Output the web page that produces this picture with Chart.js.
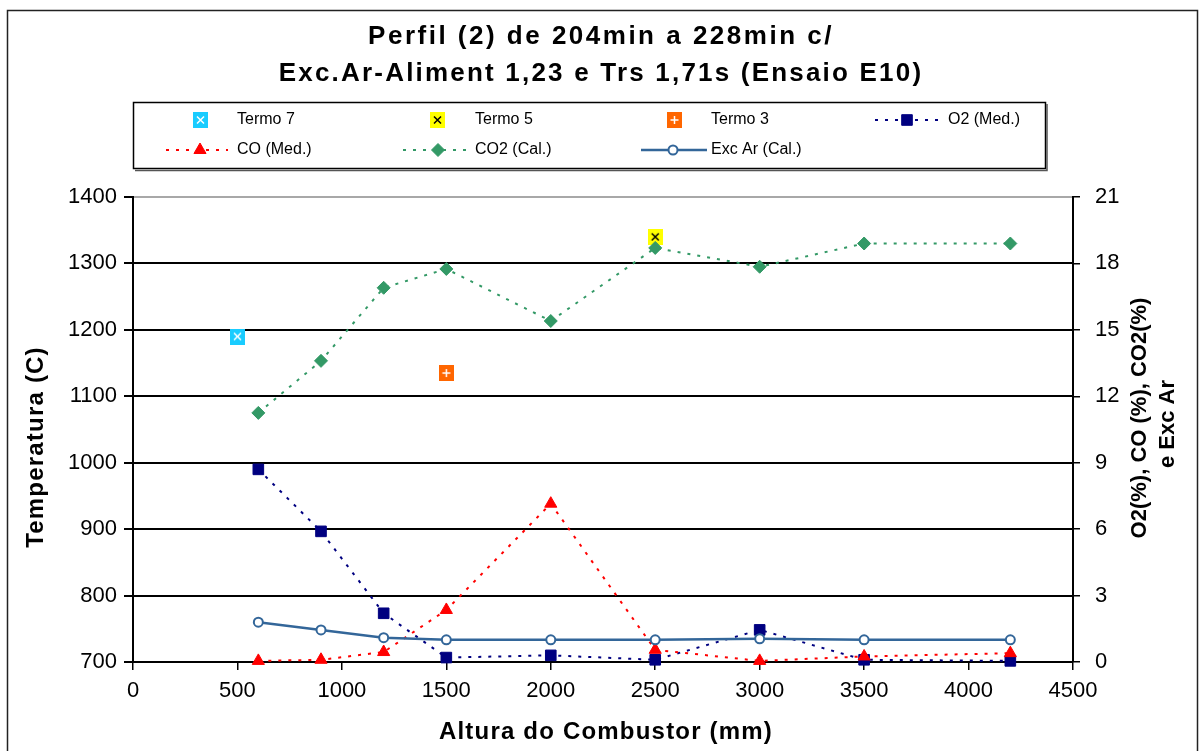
<!DOCTYPE html>
<html>
<head>
<meta charset="utf-8">
<title>Perfil (2) - Ensaio E10</title>
<script src="https://cdn.jsdelivr.net/npm/chart.js@4.4.1/dist/chart.umd.min.js"></script>
<style>
  html, body { margin: 0; padding: 0; background: #fff; }
  canvas { display: block; }
</style>
</head>
<body>
<canvas id="chart" width="1199" height="751"></canvas>
<script>
// text
var titleLines = ['Perfil (2) de 204min a 228min c/', 'Exc.Ar-Aliment 1,23 e Trs 1,71s (Ensaio E10)'];
var xTitle = 'Altura do Combustor (mm)';
var yTitle = 'Temperatura (C)';
var y1TitleLines = ['O2(%), CO (%), CO2(%)', 'e Exc Ar'];

// tick labels
var xTicks = [0, 500, 1000, 1500, 2000, 2500, 3000, 3500, 4000, 4500];
var tempTicks = [700, 800, 900, 1000, 1100, 1200, 1300, 1400];
var gasTicks = [0, 3, 6, 9, 12, 15, 18, 21];

// thermocouples (left axis)
var termoLabels = ['Termo 7', 'Termo 5', 'Termo 3'];
var termoHeights = [500, 2500, 1500];
var termoTemps = [1190, 1340, 1135];

// gas profile (right axis)
var heights = [600, 900, 1200, 1500, 2000, 2500, 3000, 3500, 4200];
var o2Med = [8.7, 5.9, 2.2, 0.2, 0.3, 0.1, 1.45, 0.1, 0.05];
var coMed = [0.05, 0.1, 0.45, 2.35, 7.15, 0.55, 0.05, 0.25, 0.4];
var co2Cal = [11.25, 13.6, 16.9, 17.75, 15.4, 18.7, 17.85, 18.9, 18.9];
var excArCal = [1.8, 1.45, 1.1, 1.0, 1.0, 1.0, 1.05, 1.0, 1.0];

var FONT = "'Liberation Sans', Arial, Helvetica, sans-serif";

// small square marker with a glyph, like the Excel pattern markers
function makeBadge(fill, ink, glyph) {
    var c = document.createElement('canvas');
    c.width = 15;
    c.height = 16;
    var g = c.getContext('2d');
    g.fillStyle = fill;
    g.fillRect(0, 0, 15, 16);
    g.strokeStyle = ink;
    g.lineWidth = 1.5;
    g.beginPath();
    if (glyph === '+') {
        g.moveTo(7.5, 4); g.lineTo(7.5, 12);
        g.moveTo(3.5, 8); g.lineTo(11.5, 8);
    } else {
        g.moveTo(4, 4.5); g.lineTo(11, 11.5);
        g.moveTo(11, 4.5); g.lineTo(4, 11.5);
    }
    g.stroke();
    return c;
}

var termoStyles = [
    makeBadge('#19CCFF', '#ffffff', 'x'),
    makeBadge('#FFFF00', '#000000', 'x'),
    makeBadge('#FF6600', '#ffffff', '+')
];

function pairs(xs, ys) {
    return xs.map(function(x, i) { return {x: x, y: ys[i]}; });
}

function termoSet(i) {
    return {
        label: termoLabels[i],
        data: [{x: termoHeights[i], y: termoTemps[i]}],
        yAxisID: 'y',
        showLine: false,
        pointStyle: termoStyles[i],
        pointRadius: 8,
        order: 7 - i,
        clip: false
    };
}

function gasSet(label, values, color, style, radius, dash, order) {
    return {
        label: label,
        data: pairs(heights, values),
        yAxisID: 'y1',
        showLine: true,
        borderColor: color,
        borderWidth: 2,
        borderDash: dash,
        pointStyle: style,
        pointRadius: radius,
        pointBackgroundColor: color,
        pointBorderColor: color,
        pointBorderWidth: 1,
        order: order,
        clip: false
    };
}

var datasets = [
    termoSet(0),
    termoSet(1),
    termoSet(2),
    gasSet('O2 (Med.)', o2Med, '#000080', 'rect', 7.5, [3, 7], 4),
    gasSet('CO (Med.)', coMed, '#FF0000', 'triangle', 7, [3, 7], 3),
    gasSet('CO2 (Cal.)', co2Cal, '#339966', 'rectRot', 6.5, [3, 7], 2),
    gasSet('Exc Ar (Cal.)', excArCal, '#336699', 'circle', 4.5, [], 1)
];
// open circles for excess air
datasets[6].pointBackgroundColor = '#ffffff';
datasets[6].pointBorderWidth = 2;
datasets[6].borderWidth = 2.5;

// legend slots, in dataset order
var legendSlots = [
    {mx: 200, tx: 237, y: 120},
    {mx: 437, tx: 475, y: 120},
    {mx: 674, tx: 711, y: 120},
    {mx: 907, tx: 948, y: 120, l0: 875, l1: 945},
    {mx: 200, tx: 237, y: 150, l0: 166, l1: 228},
    {mx: 438, tx: 475, y: 150, l0: 403, l1: 467},
    {mx: 673, tx: 711, y: 150, l0: 641, l1: 707}
];

function drawMarker(ctx, ds, x, y) {
    var st = ds.pointStyle, r = ds.pointRadius;
    if (st instanceof HTMLCanvasElement) {
        ctx.drawImage(st, Math.round(x - st.width / 2), Math.round(y - st.height / 2));
        return;
    }
    ctx.beginPath();
    if (st === 'rect') {
        var h = r * Math.SQRT1_2;
        ctx.rect(x - h, y - h, 2 * h, 2 * h);
    } else if (st === 'triangle') {
        ctx.moveTo(x, y - r);
        ctx.lineTo(x + r * Math.sin(Math.PI * 2 / 3), y + r / 2);
        ctx.lineTo(x - r * Math.sin(Math.PI * 2 / 3), y + r / 2);
        ctx.closePath();
    } else if (st === 'rectRot') {
        ctx.moveTo(x, y - r); ctx.lineTo(x + r, y);
        ctx.lineTo(x, y + r); ctx.lineTo(x - r, y);
        ctx.closePath();
    } else {
        ctx.arc(x, y, r, 0, Math.PI * 2);
    }
    ctx.fillStyle = ds.pointBackgroundColor;
    ctx.fill();
    ctx.lineWidth = ds.pointBorderWidth;
    ctx.strokeStyle = ds.pointBorderColor;
    ctx.setLineDash([]);
    ctx.stroke();
}

function spacedText(ctx, text, x, y, angle, spacing) {
    ctx.save();
    ctx.translate(x, y);
    ctx.rotate(angle);
    ctx.letterSpacing = spacing;
    ctx.fillText(text, 0, 0);
    ctx.restore();
}

// frame, title, legend box and axis titles
var excelLook = {
    id: 'excelLook',
    beforeDraw: function(chart) {
        var ctx = chart.ctx;
        ctx.save();
        ctx.fillStyle = '#ffffff';
        ctx.fillRect(0, 0, chart.width, chart.height);
        ctx.strokeStyle = '#222';
        ctx.lineWidth = 1.5;
        ctx.strokeRect(7.5, 10.5, 1190, 760);

        ctx.fillStyle = '#000';
        ctx.font = 'bold 26px ' + FONT;
        ctx.textAlign = 'center';
        ctx.textBaseline = 'middle';
        spacedText(ctx, titleLines[0], 601, 37, 0, '2.5px');
        spacedText(ctx, titleLines[1], 601, 74, 0, '2.2px');
        ctx.restore();
    },
    afterDraw: function(chart) {
        var ctx = chart.ctx;
        ctx.save();
        // legend box
        ctx.strokeStyle = '#000';
        ctx.lineWidth = 1.5;
        ctx.strokeRect(133.5, 102.5, 912, 66);
        ctx.strokeStyle = '#555';
        ctx.beginPath();
        ctx.moveTo(135, 170.5); ctx.lineTo(1047, 170.5); ctx.lineTo(1047, 104);
        ctx.stroke();

        ctx.font = '16px ' + FONT;
        ctx.textBaseline = 'middle';
        ctx.textAlign = 'left';
        legendSlots.forEach(function(s, i) {
            var ds = chart.data.datasets[i];
            if (s.l0 !== undefined) {
                ctx.beginPath();
                ctx.setLineDash(ds.borderDash || []);
                ctx.strokeStyle = ds.borderColor;
                ctx.lineWidth = ds.borderWidth;
                ctx.moveTo(s.l0, s.y);
                ctx.lineTo(s.l1, s.y);
                ctx.stroke();
                ctx.setLineDash([]);
            }
            drawMarker(ctx, ds, s.mx, s.y);
            ctx.fillStyle = '#000';
            ctx.fillText(ds.label, s.tx, s.y);
        });

        // axis titles
        ctx.fillStyle = '#000';
        ctx.textAlign = 'center';
        ctx.font = 'bold 24px ' + FONT;
        spacedText(ctx, xTitle, 606, 732, 0, '1.2px');
        spacedText(ctx, yTitle, 36, 447, -Math.PI / 2, '1.2px');

        // right axis title, read bottom to top
        ctx.font = 'bold 22px ' + FONT;
        spacedText(ctx, y1TitleLines[0], 1140, 418, -Math.PI / 2, '0px');
        spacedText(ctx, y1TitleLines[1], 1168, 424, -Math.PI / 2, '0px');
        ctx.restore();
    }
};

function fixedTicks(list) {
    return function(scale) {
        scale.ticks = list.map(function(v) { return {value: v}; });
    };
}

function plainLabel(v) {
    return String(v);
}

new Chart(document.getElementById('chart'), {
    type: 'scatter',
    data: {datasets: datasets},
    plugins: [excelLook],
    options: {
        responsive: false,
        animation: false,
        devicePixelRatio: 1,
        layout: {padding: {top: 197, left: 8, right: 0, bottom: 0}},
        plugins: {
            legend: {display: false},
            title: {display: false},
            tooltip: {enabled: false}
        },
        elements: {line: {tension: 0}},
        scales: {
            x: {
                type: 'linear',
                min: 0,
                max: 4500,
                afterBuildTicks: fixedTicks(xTicks),
                afterFit: function(s) { s.height = 89; },
                border: {display: true, color: '#000', width: 2},
                grid: {drawOnChartArea: false, color: '#000', lineWidth: 1.5, tickLength: 8},
                ticks: {color: '#000', padding: 8, maxRotation: 0, callback: plainLabel,
                        font: {family: FONT, size: 22}}
            },
            y: {
                position: 'left',
                min: 700,
                max: 1400,
                afterBuildTicks: fixedTicks(tempTicks),
                afterFit: function(s) { s.width = 125; },
                border: {display: true, color: '#000', width: 2},
                grid: {
                    color: function(c) { return c.tick && c.tick.value === 1400 ? '#a8a8a8' : '#000'; },
                    lineWidth: 2,
                    tickLength: 9,
                    tickColor: '#000'
                },
                ticks: {color: '#000', padding: 7, callback: plainLabel, font: {family: FONT, size: 22}}
            },
            y1: {
                position: 'right',
                min: 0,
                max: 21,
                afterBuildTicks: fixedTicks(gasTicks),
                afterFit: function(s) { s.width = 126; },
                border: {display: true, color: '#000', width: 2},
                grid: {drawOnChartArea: false, color: '#000', lineWidth: 1.5, tickLength: 7},
                ticks: {color: '#000', padding: 15, callback: plainLabel, font: {family: FONT, size: 22}}
            }
        }
    }
});
</script>
</body>
</html>
